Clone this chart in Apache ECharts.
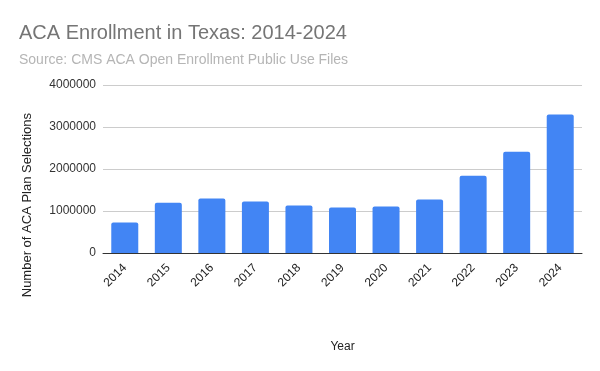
<!DOCTYPE html>
<html><head><meta charset="utf-8">
<script src="https://cdn.jsdelivr.net/npm/echarts@6/dist/echarts.min.js"></script>
<style>html,body{margin:0;padding:0;background:#fff}#c{width:600px;height:371px}</style>
</head><body><div id="c"></div>
<script>
const years = ['2014','2015','2016','2017','2018','2019','2020','2021','2022','2023','2024'];
const selections = [725000, 1195000, 1295000, 1225000, 1130000, 1085000, 1105000, 1275000, 1840000, 2410000, 3295000];
const yTicks = [0, 1000000, 2000000, 3000000, 4000000];
const FONT = '"Liberation Sans", Arial, sans-serif';

const chart = echarts.init(document.getElementById('c'), null, {renderer:'canvas'});
chart.setOption({
  animation: false,
  textStyle: {fontFamily: FONT},
  title: {
    text: 'ACA Enrollment in Texas: 2014-2024',
    subtext: 'Source: CMS ACA Open Enrollment Public Use Files',
    left: 14, top: 18,
    itemGap: 10,
    textStyle: {fontSize: 20, fontWeight: 'normal', color: '#757575', fontFamily: FONT},
    subtextStyle: {fontSize: 14, color: '#b5b5b5', fontFamily: FONT}
  },
  graphic: [{
    type: 'text', left: 21, top: 113, rotation: Math.PI / 2,
    style: {text: 'Number of ACA Plan Selections', fontSize: 13, fill: '#222', fontFamily: FONT}
  }],
  grid: {left: 103, right: 18, top: 85, bottom: 118},
  xAxis: {
    type: 'category', data: years,
    name: 'Year', nameLocation: 'middle', nameGap: 88,
    nameTextStyle: {fontSize: 12, color: '#222', fontFamily: FONT},
    axisTick: {show: false},
    axisLine: {lineStyle: {color: '#333', width: 1}},
    axisLabel: {rotate: 45, fontSize: 12, color: '#222', margin: 13, fontFamily: FONT}
  },
  yAxis: {
    type: 'value', min: yTicks[0], max: yTicks[yTicks.length-1], interval: 1000000,
    axisLine: {show: false}, axisTick: {show: false},
    axisLabel: {fontSize: 12, color: '#333', margin: 7, fontFamily: FONT, formatter: v => String(v)},
    splitLine: {lineStyle: {color: '#cccccc', width: 1}}
  },
  series: [{
    type: 'bar', data: selections,
    barCategoryGap: '38%',
    itemStyle: {color: '#4285f4', borderRadius: [2,2,0,0]}
  }]
});
</script></body></html>
